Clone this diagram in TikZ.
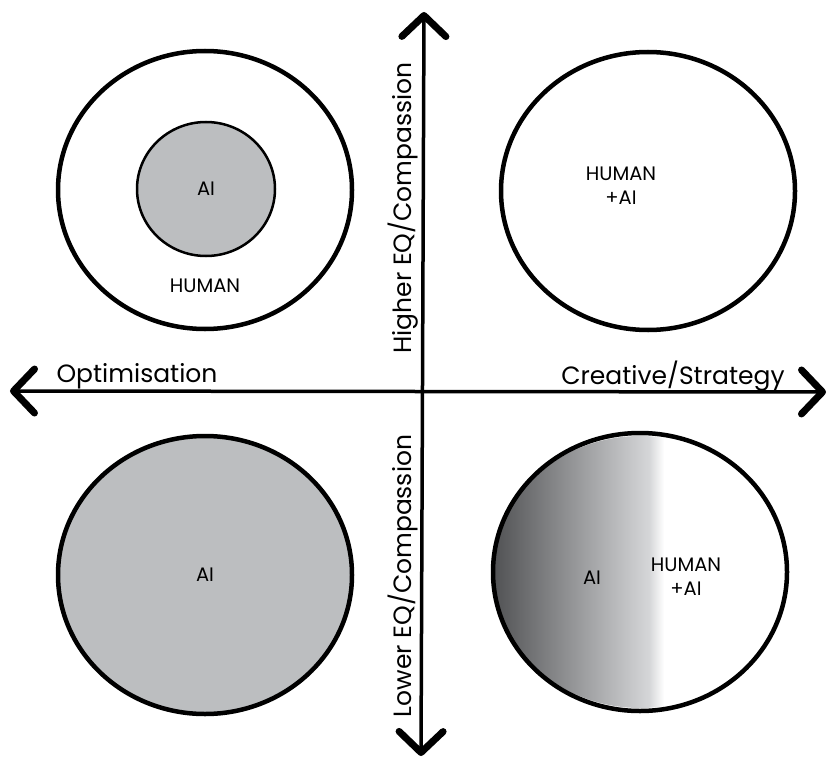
\documentclass[tikz,border=0pt]{standalone}
\usepackage{fontspec}
\setmainfont{Poppins}
\usetikzlibrary{arrows.meta,shapes.geometric}

\definecolor{aigrey}{HTML}{BCBEC0}
\definecolor{aidark}{HTML}{4E4F51}
\definecolor{ailight}{HTML}{D6D7D9}

\tikzset{%
  quadrant/.style={
    ellipse,
    draw,
    line width=4.5pt,
    minimum width=294pt,
    minimum height=278pt
  },
  core/.style={
    ellipse,
    draw,
    fill=aigrey,
    line width=2.5pt,
    minimum width=138pt,
    minimum height=134pt
  },
  tag/.style={
    font=\fontsize{19.5}{24}\selectfont,
    align=center
  },
  axis label/.style={
    font=\fontsize{25}{30}\selectfont
  },
  axis/.style={
    line width=3.5pt,
    {Straight Barb[length=21pt,width=44pt,line width=7pt,round]}-{Straight Barb[length=21pt,width=44pt,line width=7pt,round]}
  },
}

\begin{document}
\begin{tikzpicture}[x=1pt, y=-1pt]

\useasboundingbox (0,0) rectangle (832,765);

% gradient half of the lower right quadrant
\begin{scope}
  \clip (640,572) ellipse (147pt and 136pt);
  \shade [left color=aidark, right color=ailight] (490,430) rectangle (650,715);
  \shade [left color=ailight, right color=white] (649.5,430) rectangle (664,715);
\end{scope}

% QUADRANTS
\node [quadrant] (tl) at (205,190) {};
\node [quadrant] (tr) at (648,191) {};
\node [quadrant, fill=aigrey] (bl) at (205,575) {};
\node [quadrant] (br) at (640,572) {};

\node [core] (tl-ai) at (206,189) {};

% QUADRANT labels
\node [tag] (tl-ai-label) at (tl-ai) {AI};
\node [tag] (tl-human) at (205,286) {HUMAN};
\node [tag] (tr-label) at (621,186) {HUMAN\\+AI};
\node [tag] (bl-label) at (bl) {AI};
\node [tag] (br-ai) at (592,578) {AI};
\node [tag] (br-human) at (686,577) {HUMAN\\+AI};

% AXES
\coordinate (west) at (10,391);
\coordinate (east) at (826,392);
\coordinate (north) at (424,12);
\coordinate (south) at (421,756);

\draw [axis] (west) -- (east);
\draw [axis] (north) -- (south);

% AXIS labels
\node [axis label] (left-label) at (137,376) {Optimisation};
\node [axis label] (right-label) at (673,376) {Creative/Strategy};
\node [axis label, rotate=90] (top-label) at (403,208) {Higher EQ/Compassion};
\node [axis label, rotate=90] (bottom-label) at (403,576) {Lower EQ/Compassion};

\end{tikzpicture}
\end{document}
